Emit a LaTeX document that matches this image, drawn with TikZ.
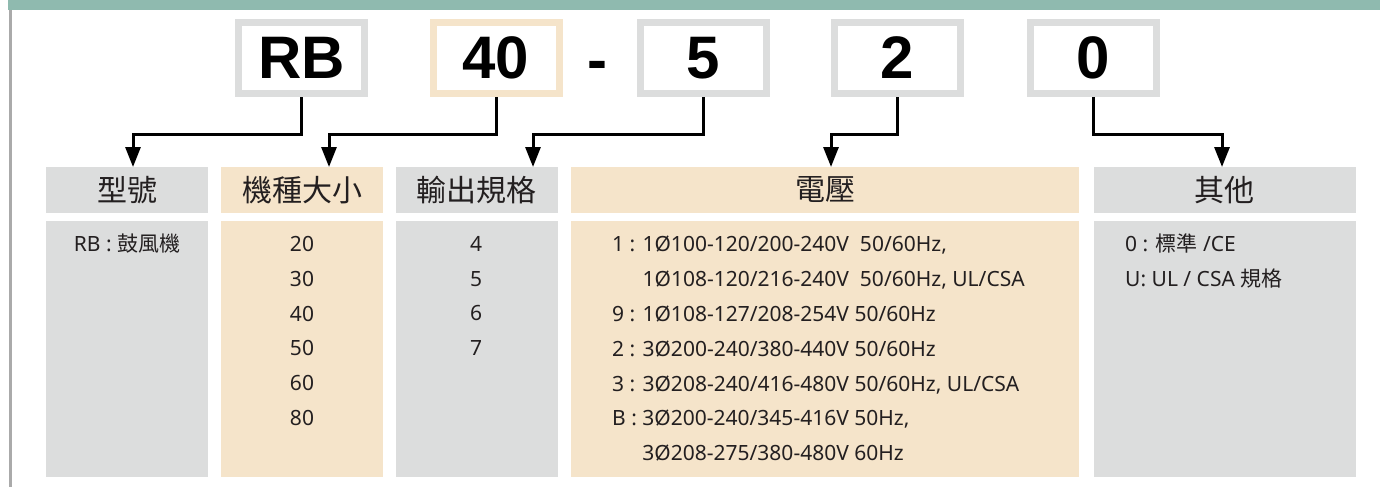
\documentclass[tikz,border=0pt]{standalone}
\usepackage{fontspec}
\setmainfont{Liberation Sans}
\newfontfamily\cjk{Noto Sans CJK TC}
\newfontfamily\latn{Noto Sans}
\usepackage{tikz}
\usetikzlibrary{positioning, arrows.meta, calc}

\definecolor{bandteal}{RGB}{143,186,175}
\definecolor{panelgray}{RGB}{220,221,221}
\definecolor{panelsand}{RGB}{245,228,202}
\definecolor{railgray}{RGB}{170,170,170}
\definecolor{inkdark}{RGB}{35,31,32}
\newcommand{\zh}[1]{{\cjk\fontsize{21}{34.8}\selectfont #1}}

\begin{document}
\begin{tikzpicture}[
  x=1pt, y=-1pt,
  code/.style={draw=panelgray, line width=7pt, fill=white, minimum width=126pt,
    minimum height=71pt, inner sep=0pt, font=\bfseries\fontsize{60}{60}\selectfont},
  hdr/.style={fill=panelgray, minimum height=46pt, inner sep=0pt, text=inkdark,
    font=\cjk\fontsize{30}{30}\selectfont},
  body/.style={fill=panelgray, minimum height=256pt, inner sep=0pt},
  list/.style={inner sep=0pt, text=inkdark, font=\latn\fontsize{21}{34.8}\selectfont},
  conn/.style={-{Triangle[length=20pt, width=15pt]}, line width=3pt, line join=miter},
]
  \useasboundingbox (0,0) rectangle (1380,487);
  % frame of the sheet
  \fill[bandteal] (8,0) rectangle (1380,10);
  \draw[railgray, line width=3pt] (10.5,10) -- (10.5,487);

  % model code
  \node[code] (cRB) at (301.5,58) {RB};
  \node[code, draw=panelsand] (cSize) at (496,58) {40};
  \node[font=\bfseries\fontsize{60}{60}\selectfont, inner sep=0pt, anchor=base] (dash) at (597,80) {-};
  \node[code] (cOut) at (703.5,58) {5};
  \node[code] (cVolt) at (897,58) {2};
  \node[code] (cOpt) at (1093.5,58) {0};

  % headers
  \node[hdr, minimum width=162pt] (hType) at (127,190) {型號};
  \node[hdr, minimum width=162pt, fill=panelsand, right=13pt of hType] (hSize) {機種大小};
  \node[hdr, minimum width=162pt, right=12pt of hSize] (hOut) {輸出規格};
  \node[hdr, minimum width=508pt, fill=panelsand, right=13pt of hOut] (hVolt) {電壓};
  \node[hdr, minimum width=262pt, right=14pt of hVolt] (hOpt) {其他};

  % option panels
  \node[body, minimum width=162pt, below=8pt of hType] (bType) {};
  \node[body, minimum width=162pt, fill=panelsand, below=8pt of hSize] (bSize) {};
  \node[body, minimum width=162pt, below=8pt of hOut] (bOut) {};
  \node[body, minimum width=508pt, fill=panelsand, below=8pt of hVolt] (bVolt) {};
  \node[body, minimum width=262pt, below=8pt of hOpt] (bOpt) {};

  \node[list, anchor=north] (lType) at (127,234) {RB : \zh{鼓風機}};
  \node[list, anchor=north, align=center] (lSize) at (302,236) {20\\30\\40\\50\\60\\80};
  \node[list, anchor=north, align=center] (lOut) at (476,236) {4\\5\\6\\7};
  \node[list, anchor=north west, align=left] (lVolt) at (612,236) {%
    1 : 1Ø100-120/200-240V\ \ 50/60Hz,\\
    \phantom{1 : }1Ø108-120/216-240V\ \ 50/60Hz, UL/CSA\\
    9 : 1Ø108-127/208-254V 50/60Hz\\
    2 : 3Ø200-240/380-440V 50/60Hz\\
    3 : 3Ø208-240/416-480V 50/60Hz, UL/CSA\\
    B : 3Ø200-240/345-416V 50Hz,\\
    \phantom{B : }3Ø208-275/380-480V 60Hz};
  \node[list, anchor=north west, align=left] (lOpt) at (1125,234) {0 : \zh{標準} /CE\\U: UL / CSA \zh{規格}};

  % arrow ends
  \coordinate (tType) at (133,167);
  \coordinate (tSize) at (329,167);
  \coordinate (tOut) at (533,167);
  \coordinate (tVolt) at (831,167);
  \coordinate (tOpt) at (1222,167);

  \draw[conn] (cRB.south) -- ++(0,37) -| (tType);
  \draw[conn] (cSize.south) -- ++(0,37) -| (tSize);
  \draw[conn] (cOut.south) -- ++(0,37) -| (tOut);
  \draw[conn] (cVolt.south) -- ++(0,37) -| (tVolt);
  \draw[conn] (cOpt.south) -- ++(0,37) -| (tOpt);
\end{tikzpicture}
\end{document}
